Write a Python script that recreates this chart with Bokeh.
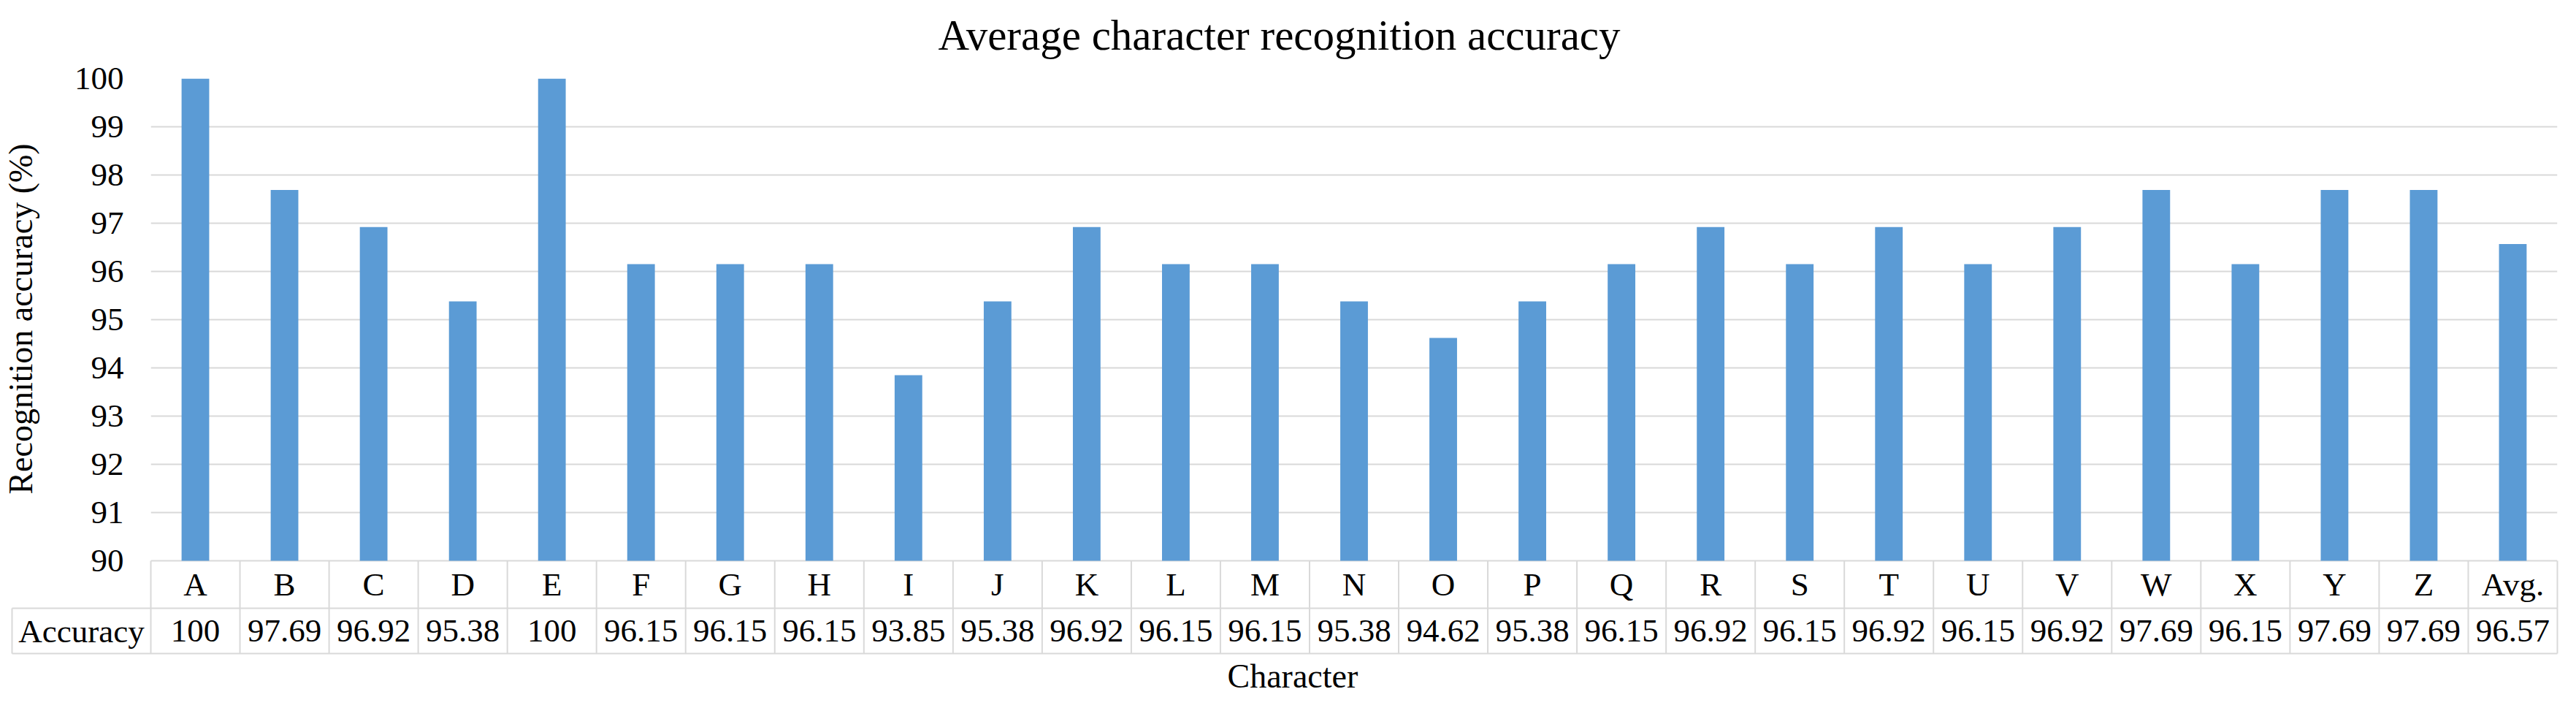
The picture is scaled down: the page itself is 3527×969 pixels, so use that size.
import math
from bokeh.plotting import figure
from bokeh.models import FactorRange, Range1d, FixedTicker, ColumnDataSource, Title
from bokeh.embed import file_html
from bokeh.resources import INLINE
from bokeh.core.properties import value

# ---- data ----
categories = ["A", "B", "C", "D", "E", "F", "G", "H", "I", "J", "K", "L", "M",
              "N", "O", "P", "Q", "R", "S", "T", "U", "V", "W", "X", "Y", "Z", "Avg."]
accuracy = [100, 97.69, 96.92, 95.38, 100, 96.15, 96.15, 96.15, 93.85, 95.38,
            96.92, 96.15, 96.15, 95.38, 94.62, 95.38, 96.15, 96.92, 96.15, 96.92,
            96.15, 96.92, 97.69, 96.15, 97.69, 97.69, 96.57]
y_ticks = [90, 91, 92, 93, 94, 95, 96, 97, 98, 99, 100]
title_text = "Average character recognition accuracy"
y_label = "Recognition accuracy (%)"
x_label = "Character"
row_header = "Accuracy"

FONT = "Liberation Serif"
BAR = "#5B9BD5"
GRID = "#D9D9D9"

labels = [f"{v:g}" for v in accuracy]
src = ColumnDataSource(dict(cat=categories, acc=accuracy, lab=labels))

# table / title geometry (y in value units, x in category units)
Y_BASE = y_ticks[0]
Y_TOP = y_ticks[-1]
ROW_LINE = 89.015
TABLE_BOTTOM = 88.076
LETTER_Y = (Y_BASE + ROW_LINE) / 2
VALUE_Y = (ROW_LINE + TABLE_BOTTOM) / 2
HEADER_LEFT = -1.557
N = len(categories)
TITLE_X, TITLE_Y = 12.66, 100.909
YLABEL_X, YLABEL_Y = -1.459, 95.015

p = figure(width=3511, height=953,
           x_range=FactorRange(factors=categories),
           y_range=Range1d(TABLE_BOTTOM, Y_TOP),
           x_axis_location=None,
           output_backend="svg", toolbar_location=None,
           min_border_left=206, min_border_right=10,
           min_border_top=107, min_border_bottom=59)
p.outline_line_color = None
p.background_fill_color = "white"

# bars
p.vbar(x="cat", top="acc", bottom=Y_BASE, width=0.31, source=src,
       fill_color=BAR, line_color=None)

# y axis & grid
p.yaxis.ticker = FixedTicker(ticks=y_ticks)
p.ygrid.ticker = FixedTicker(ticks=y_ticks)
p.ygrid.grid_line_color = GRID
p.ygrid.grid_line_width = 2
p.xgrid.visible = False
p.yaxis.bounds = (Y_BASE, Y_TOP)
p.yaxis.axis_line_color = None
p.yaxis.major_tick_line_color = None
p.yaxis.minor_tick_line_color = None
p.yaxis.major_tick_out = 0
p.yaxis.major_tick_in = 0
p.yaxis.major_label_text_font = FONT
p.yaxis.major_label_text_font_size = "45px"
p.yaxis.major_label_text_color = "black"
p.yaxis.major_label_standoff = 37

# x axis title, centred under the whole data table
p.add_layout(Title(text=x_label, align="left", offset=1474, standoff=6,
                   vertical_align="bottom",
                   text_font=FONT, text_font_size="46px",
                   text_font_style="normal", text_color="black"), "below")

# data table lines
x0 = [HEADER_LEFT, HEADER_LEFT, HEADER_LEFT]
y0 = [ROW_LINE, TABLE_BOTTOM, ROW_LINE]
x1 = [N, N, HEADER_LEFT]
y1 = [ROW_LINE, TABLE_BOTTOM, TABLE_BOTTOM]
for k in range(N + 1):
    x0.append(k); y0.append(Y_BASE); x1.append(k); y1.append(TABLE_BOTTOM)
seg = p.segment(x0=x0, y0=y0, x1=x1, y1=y1, line_color=GRID, line_width=2)
seg.level = "annotation"

# table texts
p.text(x="cat", y=LETTER_Y, text="cat", source=src,
       text_font=value(FONT), text_font_size="45px", text_color="black",
       text_align="center", text_baseline="middle")
p.text(x="cat", y=VALUE_Y, text="lab", source=src,
       text_font=value(FONT), text_font_size="45px", text_color="black",
       text_align="center", text_baseline="middle")
hdr = p.text(x=[HEADER_LEFT / 2], y=[VALUE_Y], text=[row_header],
             text_font=value(FONT), text_font_size="45px", text_color="black",
             text_align="center", text_baseline="middle")
hdr.level = "annotation"

# chart title and y axis title
ttl = p.text(x=[TITLE_X], y=[TITLE_Y], text=[title_text],
             text_font=value(FONT), text_font_size="59px", text_color="black",
             text_align="center", text_baseline="alphabetic")
ttl.level = "annotation"
yl = p.text(x=[YLABEL_X], y=[YLABEL_Y], text=[y_label], angle=math.pi / 2,
            text_font=value(FONT), text_font_size="46px", text_color="black",
            text_align="center", text_baseline="middle")
yl.level = "annotation"

open("out.html", "w").write(file_html(p, INLINE))
